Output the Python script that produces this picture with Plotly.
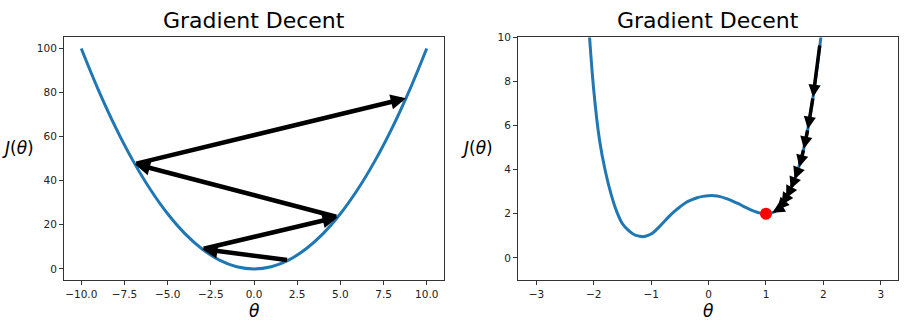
import plotly.graph_objects as go

W, H = 910, 330

# ---- Left panel data ----
left_x = [-10, -9, -8, -7, -6, -5, -4, -3, -2, -1, 0, 1, 2, 3, 4, 5, 6, 7, 8, 9, 10]
left_y = [100, 81, 64, 49, 36, 25, 16, 9, 4, 1, 0, 1, 4, 9, 16, 25, 36, 49, 64, 81, 100]
left_steps_x = [2, -3, 4.85, -6.9, 8.8]
left_steps_y = [4, 9, 23.5, 47.6, 77.4]

left_xticks = [-10, -7.5, -5, -2.5, 0, 2.5, 5, 7.5, 10]
left_xticktext = ["\u221210.0", "\u22127.5", "\u22125.0", "\u22122.5", "0.0", "2.5", "5.0", "7.5", "10.0"]
left_yticks = [0, 20, 40, 60, 80, 100]

# ---- Right panel data ----
right_x = [-2.1, -2.0, -1.9, -1.8, -1.7, -1.6, -1.5, -1.4, -1.3, -1.2, -1.15, -1.1, -1.0,
           -0.9, -0.8, -0.7, -0.6, -0.5, -0.4, -0.3, -0.2, -0.1, 0.0, 0.1, 0.2, 0.3, 0.4,
           0.5, 0.6, 0.7, 0.8, 0.9, 1.0, 1.1, 1.2, 1.3, 1.4, 1.5, 1.6, 1.7, 1.8, 1.9, 2.0]
right_y = [11.0, 7.6, 5.35, 3.95, 2.9, 2.1, 1.55, 1.26, 1.06, 0.98, 0.96, 0.98, 1.08,
           1.3, 1.57, 1.85, 2.1, 2.31, 2.5, 2.63, 2.73, 2.79, 2.82, 2.82, 2.78, 2.7, 2.6,
           2.48, 2.35, 2.22, 2.11, 2.03, 2.0, 2.04, 2.18, 2.47, 2.95, 3.57, 4.37, 5.45, 6.95, 8.8, 11.0]
right_steps_x = [1.94, 1.82, 1.73, 1.66, 1.58, 1.50, 1.43, 1.35, 1.27, 1.19, 1.11, 1.05]
right_steps_y = [9.7, 7.3, 5.85, 4.95, 4.12, 3.57, 3.12, 2.72, 2.4, 2.17, 2.05, 2.01]
min_point_x = [1.0]
min_point_y = [2.0]

right_xticks = [-3, -2, -1, 0, 1, 2, 3]
right_xticktext = ["\u22123", "\u22122", "\u22121", "0", "1", "2", "3"]
right_yticks = [0, 2, 4, 6, 8, 10]

FONT = "DejaVu Sans"
BLUE = "#1f77b4"
AX = "#333333"

fig = go.Figure()
fig.add_trace(go.Scatter(x=left_x, y=left_y, mode="lines", line=dict(color=BLUE, width=3, shape="spline"),
                         xaxis="x", yaxis="y", showlegend=False, hoverinfo="skip"))
fig.add_trace(go.Scatter(x=right_x, y=right_y, mode="lines", line=dict(color=BLUE, width=3, shape="spline"),
                         xaxis="x2", yaxis="y2", showlegend=False, hoverinfo="skip"))
fig.add_trace(go.Scatter(x=min_point_x, y=min_point_y, mode="markers", marker=dict(color="red", size=12),
                         xaxis="x2", yaxis="y2", showlegend=False, hoverinfo="skip"))

ann = []
for i in range(len(left_steps_x) - 1):
    ann.append(dict(x=left_steps_x[i + 1], y=left_steps_y[i + 1], ax=left_steps_x[i], ay=left_steps_y[i],
                    xref="x", yref="y", axref="x", ayref="y", text="", showarrow=True,
                    arrowhead=2, arrowwidth=4.5, arrowsize=0.68, arrowcolor="black", standoff=0))
for i in range(len(right_steps_x) - 1):
    ann.append(dict(x=right_steps_x[i + 1], y=right_steps_y[i + 1], ax=right_steps_x[i], ay=right_steps_y[i],
                    xref="x2", yref="y2", axref="x2", ayref="y2", text="", showarrow=True,
                    arrowhead=2, arrowwidth=3.5, arrowsize=0.7, arrowcolor="black", standoff=0))

def P(px, py):
    return px / W, 1 - py / H

for cx in (254, 708):
    x, y = P(cx, 15)
    ann.append(dict(x=x, y=y, xref="paper", yref="paper", text="Gradient Decent", showarrow=False,
                    font=dict(family=FONT, size=22, color="black"), xanchor="center", yanchor="middle"))
for cx in (254, 708):
    x, y = P(cx, 311)
    ann.append(dict(x=x, y=y, xref="paper", yref="paper", text="<i>θ</i>", showarrow=False,
                    font=dict(family=FONT, size=17, color="black"), xanchor="center", yanchor="middle"))
for cx in (18, 477):
    x, y = P(cx, 145)
    ann.append(dict(x=x, y=y, xref="paper", yref="paper", text="<i>J</i>(<i>θ</i>)", showarrow=False,
                    font=dict(family=FONT, size=17, color="black"), xanchor="center", yanchor="middle"))

axcommon = dict(showgrid=False, zeroline=False, showline=True, mirror=True, linecolor=AX, linewidth=1,
                ticks="outside", ticklen=4, tickcolor=AX, tickwidth=1,
                tickfont=dict(family=FONT, size=10.5, color="#222"))

fig.update_layout(
    width=W, height=H, margin=dict(l=0, r=0, t=0, b=0),
    plot_bgcolor="white", paper_bgcolor="white",
    xaxis=dict(domain=[64 / W, 444 / W], range=[-11, 11], tickvals=left_xticks, ticktext=left_xticktext,
               anchor="y", **axcommon),
    yaxis=dict(domain=[1 - 279 / H, 1 - 32 / H], range=[-5, 105], tickvals=left_yticks, anchor="x", **axcommon),
    xaxis2=dict(domain=[518 / W, 898 / W], range=[-3.32, 3.3], tickvals=right_xticks, ticktext=right_xticktext,
                anchor="y2", **axcommon),
    yaxis2=dict(domain=[1 - 279 / H, 1 - 32 / H], range=[-1, 10], tickvals=right_yticks, anchor="x2", **axcommon),
    annotations=ann,
    showlegend=False,
)

fig.write_html("out.html")
